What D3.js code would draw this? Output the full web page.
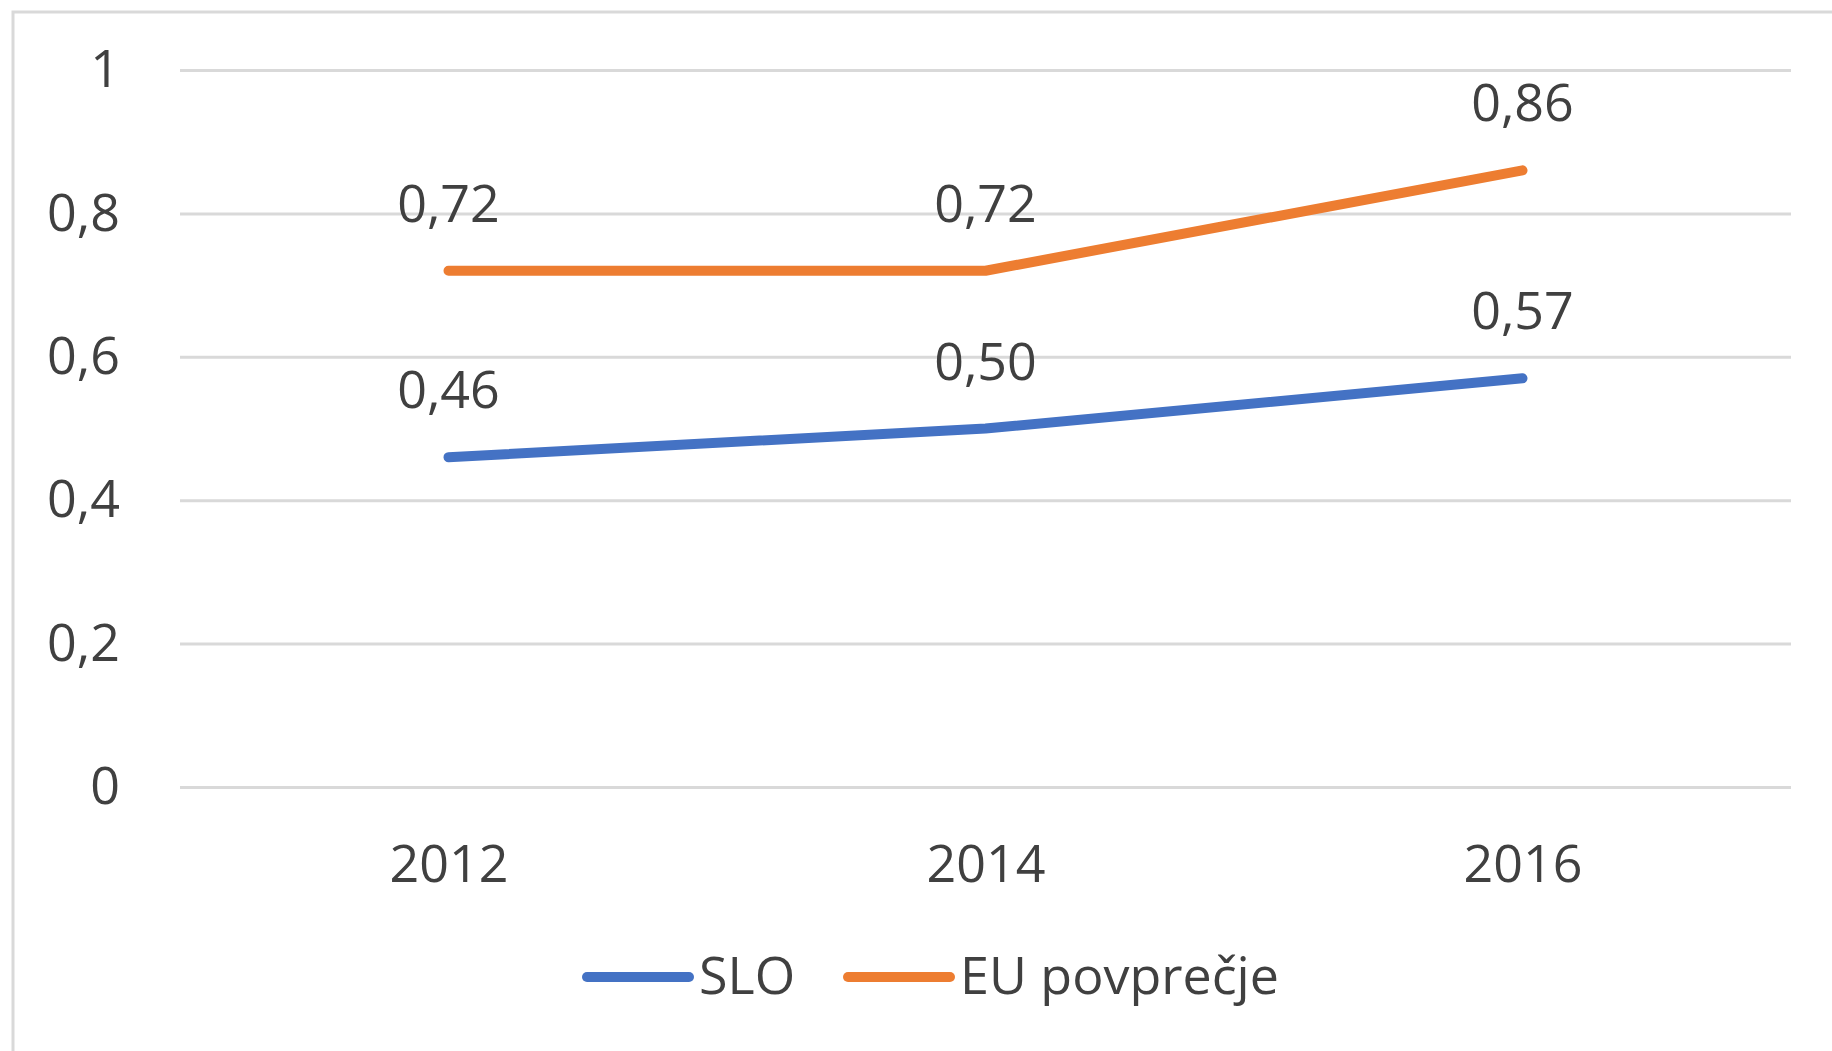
<!DOCTYPE html>
<html>
<head>
<meta charset="utf-8">
<script src="https://cdn.jsdelivr.net/npm/d3@7"></script>
<style>
  html, body { margin: 0; padding: 0; background: #fff; }
  text { font-family: "Open Sans", sans-serif; fill: #404040; }
</style>
</head>
<body>
<svg id="chart" width="1832" height="1051"></svg>
<script>
// Data
var years = ["2012", "2014", "2016"];
var sloValues = [0.46, 0.50, 0.57];
var euValues = [0.72, 0.72, 0.86];
var seriesNames = ["SLO", "EU povprečje"];
var seriesColors = ["#4472C4", "#ED7D31"];
var yTicks = [0, 0.2, 0.4, 0.6, 0.8, 1];

var series = [
    { name: seriesNames[0], color: seriesColors[0], values: sloValues },
    { name: seriesNames[1], color: seriesColors[1], values: euValues }
];

// Slovene number format (decimal comma)
var locale = d3.formatLocale({ decimal: ",", thousands: ".", grouping: [3], currency: ["", " €"] });
var tickFmt = locale.format("~g");
var labelFmt = locale.format(".2f");

var fontSize = 52;
// plot box (note: "top" is taken by window.top, so use other names)
var plotLeft = 180, plotRight = 1791, plotTop = 70, plotBottom = 787;

var svg = d3.select("#chart");

// chart area frame (runs off the right and bottom edge)
svg.append("rect")
    .attr("x", 13)
    .attr("y", 12)
    .attr("width", 2000)
    .attr("height", 2000)
    .attr("fill", "none")
    .attr("stroke", "#d9d9d9")
    .attr("stroke-width", 3);

// Scales
var x = d3.scalePoint()
    .domain(years)
    .range([plotLeft, plotRight])
    .padding(0.5);
var y = d3.scaleLinear()
    .domain([0, 1])
    .range([plotBottom, plotTop]);

// Y axis + gridlines
var yAxis = d3.axisLeft(y)
    .tickValues(yTicks)
    .tickFormat(tickFmt)
    .tickSize(-(plotRight - plotLeft))
    .tickPadding(60);

var gy = svg.append("g")
    .attr("transform", "translate(" + plotLeft + ",0)")
    .call(yAxis);
gy.select(".domain").remove();
gy.selectAll(".tick line")
    .attr("stroke", "#d9d9d9")
    .attr("stroke-width", 3);
gy.selectAll(".tick text")
    .attr("font-size", fontSize)
    .attr("font-family", "Open Sans")
    .attr("fill", "#404040");

// X axis labels
var xAxis = d3.axisBottom(x).tickSize(0);
var gx = svg.append("g")
    .attr("transform", "translate(0," + plotBottom + ")")
    .call(xAxis);
gx.select(".domain").remove();
gx.selectAll(".tick text")
    .attr("y", 95)
    .attr("dy", 0)
    .attr("font-size", fontSize)
    .attr("font-family", "Open Sans")
    .attr("fill", "#404040");

// Lines
var line = d3.line()
    .x(function(d, i) { return x(years[i]); })
    .y(function(d) { return y(d); });

svg.selectAll(".series")
        .data(series)
    .enter().append("path")
        .attr("class", "series")
        .attr("d", function(d) { return line(d.values); })
        .attr("fill", "none")
        .attr("stroke", function(d) { return d.color; })
        .attr("stroke-width", 10)
        .attr("stroke-linecap", "round")
        .attr("stroke-linejoin", "round");

// Data labels
series.forEach(function(s) {
    svg.selectAll(null)
            .data(s.values)
        .enter().append("text")
            .attr("x", function(d, i) { return x(years[i]); })
            .attr("y", function(d) { return y(d) - 49; })
            .attr("text-anchor", "middle")
            .attr("font-size", fontSize)
            .text(function(d) { return labelFmt(d); });
});

// Legend
var legendX = [587, 848];
var legendY = 977;
var legend = svg.selectAll(".legend")
        .data(series)
    .enter().append("g")
        .attr("class", "legend")
        .attr("transform", function(d, i) { return "translate(" + legendX[i] + "," + legendY + ")"; });
legend.append("line")
    .attr("x1", 0)
    .attr("x2", 102)
    .attr("stroke", function(d) { return d.color; })
    .attr("stroke-width", 10)
    .attr("stroke-linecap", "round");
legend.append("text")
    .attr("x", 112)
    .attr("dy", "0.32em")
    .attr("font-size", fontSize)
    .text(function(d) { return d.name; });
</script>
</body>
</html>
